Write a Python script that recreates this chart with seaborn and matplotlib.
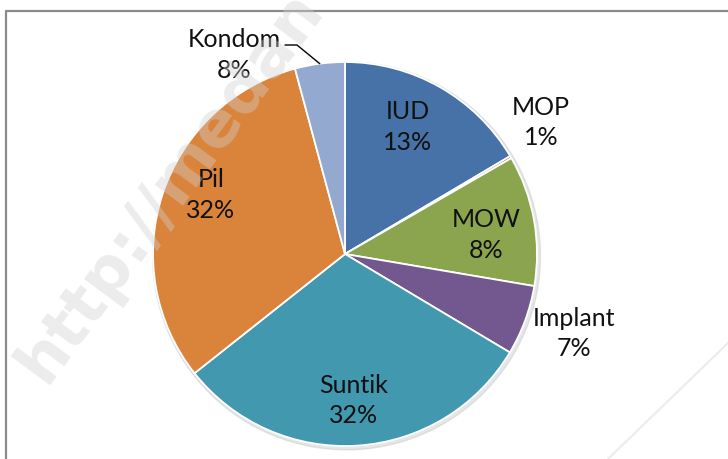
import numpy as np
import matplotlib
matplotlib.use("Agg")
import matplotlib.pyplot as plt
from matplotlib.lines import Line2D
import seaborn as sns

sns.set_theme(style="white")
plt.rcParams['font.family'] = ['Lato', 'DejaVu Sans']

# slice sizes (degrees -> share), labels as printed on the chart
methods = ["IUD", "MOP", "MOW", "Implant", "Suntik", "Pil", "Kondom"]
sizes = [16.5, 0.2, 11.0, 5.9, 30.8, 31.5, 4.2]
label_pct = ["13%", "1%", "8%", "7%", "32%", "32%", "8%"]
colors = ["#4672A8", "#AA4643", "#8AA54E", "#72588F", "#4198AF", "#DA833B", "#93A9CF"]

W, H = 728, 459
fig = plt.figure(figsize=(W / 100, H / 100), dpi=100)
fig.patch.set_facecolor("white")

# pie centre / radius in pixels
cx, cy, r = 345, 254, 192
ax = fig.add_axes([(cx - r) / W, (H - cy - r) / H, 2 * r / W, 2 * r / H])

wedges, _ = ax.pie(sizes, colors=colors, startangle=90, counterclock=False,
                   radius=1.0, wedgeprops=dict(edgecolor="white", linewidth=1.3))
for w in wedges:
    w.set_zorder(1)
ax.set_xlim(-1, 1)
ax.set_ylim(-1, 1)
ax.set_aspect("equal")
ax.axis("off")

# soft shadow behind the pie
shadow = plt.Circle((0.008, -0.01), 1.01, color="#c8c8c8", alpha=0.45, zorder=0,
                    clip_on=False)
ax.add_patch(shadow)

# label positions (data coords, centre of the two-line block)
label_pos = {
    "IUD": (0.326, 0.661),
    "MOP": (1.021, 0.685),
    "MOW": (0.737, 0.099),
    "Implant": (1.193, -0.414),
    "Suntik": (0.047, -0.763),
    "Pil": (-0.698, 0.307),
    "Kondom": (-0.576, 1.036),
}
for m, p in zip(methods, label_pct):
    x, y = label_pos[m]
    ax.text(x, y, f"{m}\n{p}", ha="center", va="center", fontsize=18,
            color="#111111", linespacing=1.4, zorder=5, clip_on=False)

# leader line for Kondom
kw = wedges[methods.index("Kondom")]
mid = np.deg2rad((kw.theta1 + kw.theta2) / 2)
ex, ey = np.cos(mid), np.sin(mid)
ax.add_line(Line2D([-0.3125, -0.25, ex], [1.0885, 1.0885, ey], color="black",
                   lw=1.0, clip_on=False, zorder=5))

# faint watermark
fig.text(45 / W, 1 - 385 / H, "http://medan", rotation=53.5, rotation_mode="anchor",
         ha="left", va="baseline", fontsize=46, fontweight="bold",
         family="DejaVu Sans", color="#d0d0d0", alpha=0.4, zorder=10)
fig.add_artist(Line2D([608 / W, 1.0], [0.0, 1 - 343 / H], color="#ececec", lw=1.5))

# chart frame (only top and left show)
fig.add_artist(Line2D([6 / W, 6 / W, 1.0], [0.0, 1 - 11 / H, 1 - 11 / H],
                      color="#8a8a8a", lw=1.6))

fig.savefig("out.png", dpi=100, facecolor="white")
